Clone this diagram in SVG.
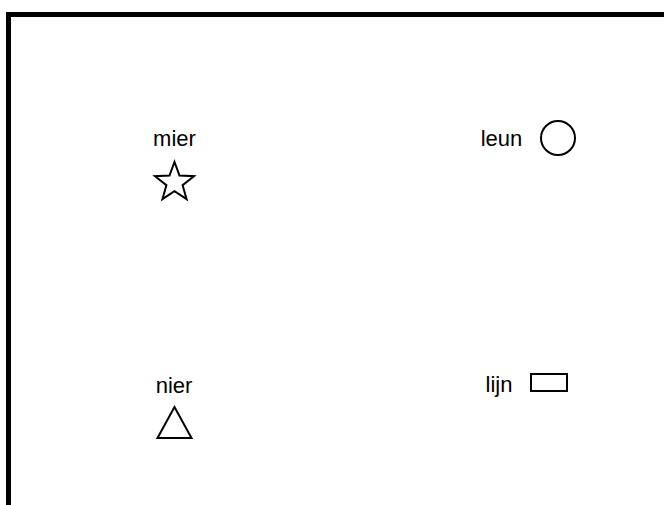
<svg xmlns="http://www.w3.org/2000/svg" width="664" height="505" viewBox="0 0 664 505">
<style>
.lbl{font-family:"Liberation Sans",Arial,sans-serif;font-size:22px;fill:#000}
.shp{fill:#fff;stroke:#000;stroke-width:2}
</style>
<rect x="0" y="0" width="664" height="505" fill="#fff"/>
<g id="frame"><rect x="8.5" y="14.5" width="700" height="600" fill="none" stroke="#000" stroke-width="5"/></g>
<g id="mier">
<text class="lbl" x="174.5" y="146" text-anchor="middle">mier</text>
<polygon class="shp" points="174.5,162 179.5,175.6 194,176.2 182.6,185.2 186.6,199.1 174.5,191.1 162.4,199.1 166.4,185.2 155,176.2 169.5,175.6"/>
</g>
<g id="leun">
<text class="lbl" x="501.5" y="146" text-anchor="middle">leun</text>
<circle class="shp" cx="558" cy="138" r="17"/>
</g>
<g id="nier">
<text class="lbl" x="174" y="393" text-anchor="middle">nier</text>
<polygon class="shp" points="174.5,407 157.5,438 191.5,438"/>
</g>
<g id="lijn">
<text class="lbl" x="499" y="392" text-anchor="middle">lijn</text>
<rect class="shp" x="531" y="374" width="36" height="17"/>
</g>
<g id="connectors"></g>
</svg>
